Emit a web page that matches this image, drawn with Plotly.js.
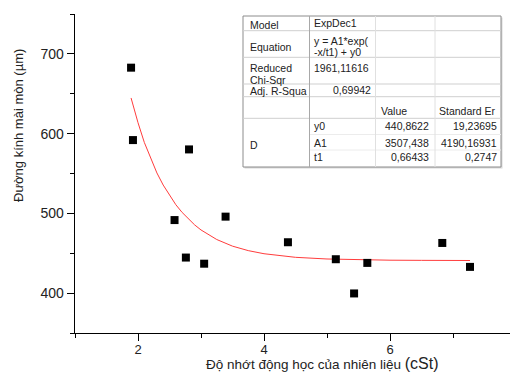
<!DOCTYPE html>
<html>
<head>
<meta charset="utf-8">
<script src="https://cdn.plot.ly/plotly-3.0.1.min.js"></script>
<style>html,body{margin:0;padding:0;background:#fff;}#chart{width:510px;height:372px;}</style>
</head>
<body>
<div id="chart"></div>
<script>
// Measured points
const viscosity = [1.89, 1.92, 2.81, 2.58, 3.39, 2.76, 3.05, 4.38, 5.14, 5.43, 5.64, 6.83, 7.27];
const wearDiameter = [682.7, 591.9, 580.2, 491.6, 495.9, 444.6, 436.9, 463.8, 442.5, 399.6, 437.9, 462.9, 432.9];

// Fitted ExpDec1 curve
const fitX = [1.89, 1.95, 2.0, 2.1, 2.2, 2.3, 2.4, 2.5, 2.6, 2.7, 2.8, 2.9, 3.0, 3.25, 3.5, 3.75, 4.0, 4.5, 5.0, 5.5, 6.0, 6.5, 7.0, 7.27];
const fitY = [644.7, 627.7, 613.7, 589.0, 568.7, 550.7, 535.5, 522.4, 510.9, 501.2, 492.7, 485.5, 479.2, 467.2, 458.9, 453.3, 449.4, 444.9, 442.8, 441.8, 441.3, 441.1, 441.0, 440.9];

// Fit report table
const tableLabels = ["Model", "Equation", "Reduced Chi-Sqr", "Adj. R-Squa"];
const modelName = "ExpDec1";
const equationText = ["y = A1*exp(", "-x/t1) + y0"];
const chiSqr = "1961,11616";
const adjR2 = "0,69942";
const paramHeaders = ["Value", "Standard Er"];
const groupLabel = "D";
const paramNames = ["y0", "A1", "t1"];
const paramValues = ["440,8622", "3507,438", "0,66433"];
const paramErrors = ["19,23695", "4190,16931", "0,2747"];

const xTitle = 'Độ nhớt động học của nhiên liệu <span style="font-size:16px">(cSt)</span>';
const yTitle = "Đường kính mài mòn (µm)";

// geometry helpers (pixel -> paper)
const W = 510, H = 372, ML = 75, MR = 0, MT = 14, MB = 39;
const PW = W - ML - MR, PH = H - MT - MB;
const px = v => (v - ML) / PW;
const py = v => (H - MB - v) / PH;

const FONT = "Liberation Sans, Arial, sans-serif";
const annotations = [];
const shapes = [];
function txt(text, x, y, opts) {
  opts = opts || {};
  annotations.push(Object.assign({
    text: text, xref: "paper", yref: "paper", x: px(x), y: py(y),
    showarrow: false, xanchor: "left", yanchor: "middle",
    font: {family: FONT, size: 10.5, color: "#222"}
  }, opts));
}
function line(x0, y0, x1, y1, color, w) {
  shapes.push({type: "line", xref: "paper", yref: "paper",
    x0: px(x0), y0: py(y0), x1: px(x1), y1: py(y1),
    line: {color: color, width: w || 1}});
}

// table frame
const TL = 243, TR = 501, TT = 16, TB = 167;
const colX = [243, 309.5, 375.5, 435, 501];
shapes.push({type: "rect", xref: "paper", yref: "paper",
  x0: px(TL + 1.5), y0: py(TB + 1.5), x1: px(TR + 1.5), y1: py(TT + 1.5),
  fillcolor: "#d8d8d8", line: {width: 0}});
shapes.push({type: "rect", xref: "paper", yref: "paper",
  x0: px(TL), y0: py(TB), x1: px(TR), y1: py(TT),
  fillcolor: "#ffffff", line: {color: "#8c8c8c", width: 1}});
// horizontal row lines
[30.7, 57.3, 84, 96.7, 118.3].forEach(y => line(TL, y, TR, y, "#cfcfcf", 1));
[134.5, 150].forEach(y => line(colX[1], y, TR, y, "#ececec", 1));
// vertical column lines
line(colX[1], TT, colX[1], TB, "#a8a8a8", 1);
line(colX[2], TT, colX[2], TB, "#e0e0e0", 1);
line(colX[3], TT, colX[3], TB, "#e0e0e0", 1);

// table texts
const c1 = 247.5, c2 = 312;
txt(tableLabels[0], c1, 24.5);
txt(modelName, c2, 23.5);
txt(tableLabels[1], c1, 46.5);
txt(equationText[0], c2, 41);
txt(equationText[1], c2, 51.5);
txt("Reduced", c1, 68.5);
txt("Chi-Sqr", c1, 80);
txt(chiSqr, c2, 68.5);
txt(tableLabels[3], c1, 91);
txt(adjR2, 372.5, 90.5, {xanchor: "right"});
txt(paramHeaders[0], 378.5, 111);
txt(paramHeaders[1], 436.5, 111);
txt(groupLabel, c1, 145);
const rowY = [126, 142.5, 156.5];
paramNames.forEach((n, i) => {
  txt(n, c2, rowY[i]);
  txt(paramValues[i], 430.5, rowY[i], {xanchor: "right"});
  txt(paramErrors[i], 499, rowY[i], {xanchor: "right"});
});

// axis titles
txt(yTitle, 19, 126, {xanchor: "center", textangle: -90, font: {family: FONT, size: 13, color: "#222"}});
txt(xTitle, 322, 363.5, {xanchor: "center", font: {family: FONT, size: 13.5, color: "#222"}});

const traces = [
  {x: fitX, y: fitY, type: "scatter", mode: "lines", line: {color: "rgb(255,60,60)", width: 1}, hoverinfo: "skip"},
  {x: viscosity, y: wearDiameter, type: "scatter", mode: "markers",
   marker: {symbol: "square", size: 8, color: "#000"}}
];

const axisCommon = {
  showline: true, linecolor: "#000", linewidth: 1.3, mirror: false,
  showgrid: false, zeroline: false,
  ticks: "outside", ticklen: 7, tickwidth: 1, tickcolor: "#000",
  tickfont: {family: FONT, size: 14, color: "#222"}
};

const layout = {
  width: W, height: H,
  margin: {l: ML, r: MR, t: MT, b: MB, pad: 0},
  paper_bgcolor: "#fff", plot_bgcolor: "#fff",
  showlegend: false,
  xaxis: Object.assign({}, axisCommon, {range: [1, 1 + PW / 63], tick0: 0, dtick: 2,
    tickfont: {family: FONT, size: 13, color: "#222"}, ticklabelstandoff: -3,
    minor: {ticks: "outside", ticklen: 4, dtick: 1, tick0: 0, tickcolor: "#000", showgrid: false}}),
  yaxis: Object.assign({}, axisCommon, {range: [350, 750], tick0: 0, dtick: 100,
    minor: {ticks: "outside", ticklen: 4, dtick: 50, tick0: 0, tickcolor: "#000", showgrid: false}}),
  shapes: shapes,
  annotations: annotations
};

Plotly.newPlot("chart", traces, layout, {displayModeBar: false, staticPlot: true});
</script>
</body>
</html>
